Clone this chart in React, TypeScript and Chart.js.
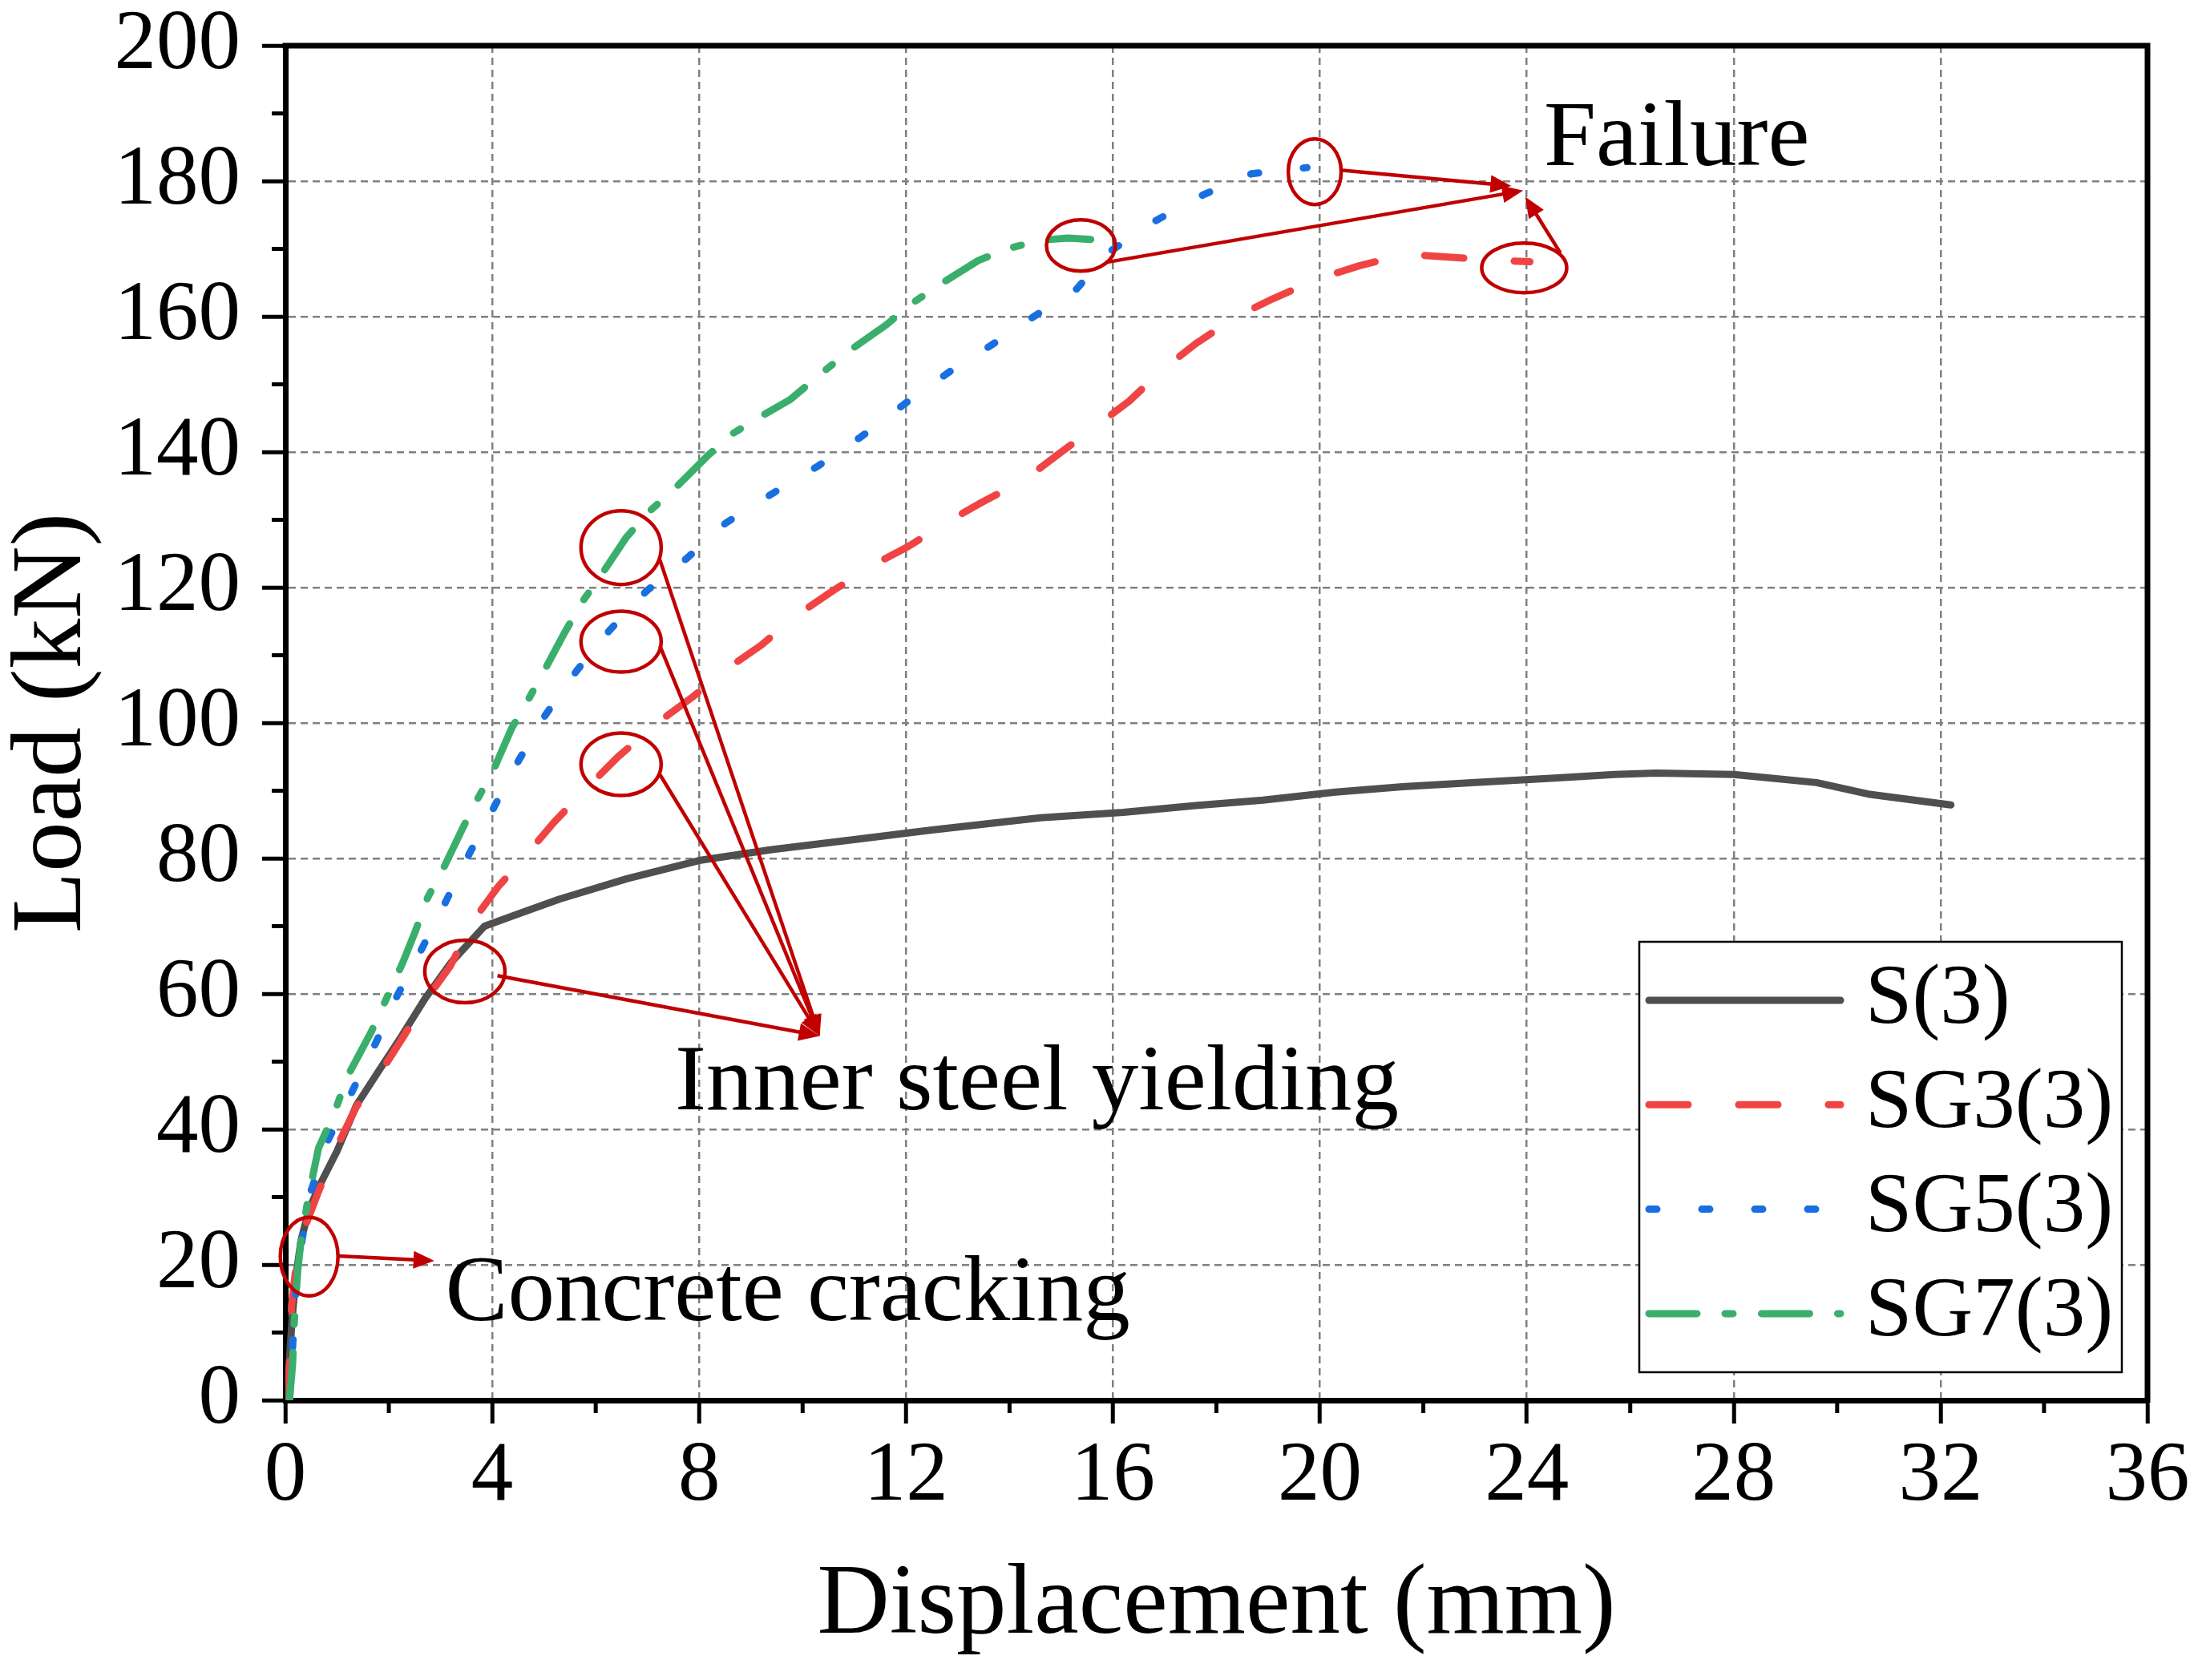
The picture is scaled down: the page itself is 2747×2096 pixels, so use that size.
import React, { useEffect, useRef } from "react";
import { Chart, registerables } from "chart.js";

Chart.register(...registerables);

// ---------------- data ----------------
const SERIES_LABELS = ["S(3)", "SG3(3)", "SG5(3)", "SG7(3)"];

const S_X = [0.03, 0.08, 0.13, 0.2, 0.3, 0.45, 0.64, 1.0, 1.37, 1.82, 2.25, 2.7, 3.2, 3.85, 4.5, 5.3, 6.6, 8.0, 9.4, 10.9, 12.5, 14.6, 16.2, 17.6, 18.9, 20.3, 21.6, 23.0, 24.4, 25.7, 26.5, 28.0, 29.6, 30.6, 32.2];
const S_Y = [0, 6, 12, 18, 23.5, 28, 31.4, 36.8, 43.5, 48.8, 53.8, 59.3, 64.6, 70, 71.8, 74, 77, 79.7, 81.3, 82.7, 84.2, 86, 86.8, 87.8, 88.6, 89.8, 90.6, 91.2, 91.8, 92.4, 92.6, 92.4, 91.2, 89.5, 87.9];

const SG3_X = [0.03, 0.09, 0.12, 0.19, 0.4, 0.64, 1.0, 1.37, 1.89, 2.3, 2.78, 3.18, 3.65, 4.1, 4.7, 5.2, 5.88, 6.43, 7.22, 7.85, 8.56, 9.2, 9.87, 10.54, 11.33, 12.03, 12.8, 13.47, 14.29, 14.93, 15.67, 16.31, 16.95, 17.6, 18.39, 19.08, 19.97, 20.76, 21.65, 22.48, 23.22, 24.06];
const SG3_Y = [0, 6.5, 14, 18.7, 26, 30.8, 37.5, 43.3, 49, 53.9, 59.8, 64, 71, 75.7, 80.9, 85.4, 90.8, 95, 100.2, 103.7, 108.1, 111.5, 115.8, 119.3, 123.2, 126, 129.7, 132.6, 135.9, 139.6, 143.8, 147.5, 152.1, 156, 160, 162.6, 165.6, 167.5, 169.2, 168.8, 168.4, 168.1];

const SG5_X = [0.08, 0.12, 0.17, 0.22, 0.33, 0.5, 0.82, 1.26, 1.75, 2.16, 2.64, 3.1, 3.55, 4.05, 4.52, 5.03, 5.64, 6.27, 6.97, 7.76, 8.51, 9.42, 10.29, 11.12, 11.97, 12.81, 13.65, 14.51, 15.3, 15.92, 16.81, 17.75, 18.68, 19.75];
const SG5_Y = [0, 5, 12, 18, 24, 31, 38.3, 45.1, 52.8, 59.7, 66.7, 73.6, 80.6, 87.8, 94.6, 101.2, 107.8, 113.7, 119.4, 124.3, 129.5, 133.9, 137.9, 142.2, 147.1, 151.7, 155.8, 160.2, 164.1, 169.5, 174.1, 178, 181.1, 182];

const SG7_X = [0.08, 0.14, 0.17, 0.24, 0.3, 0.44, 0.64, 0.95, 1.2, 1.66, 1.9, 2.28, 2.52, 2.75, 3.04, 3.43, 3.71, 4.02, 4.38, 4.7, 5.01, 5.41, 5.76, 6.12, 6.59, 7.03, 7.46, 8.17, 8.64, 9.2, 9.75, 10.44, 10.93, 11.62, 12.07, 12.56, 13.4, 13.99, 14.64, 15.13, 15.57];
const SG7_Y = [0, 5.4, 11.3, 19.2, 23.4, 29.8, 37.2, 42.5, 47.8, 54.4, 58.4, 64.8, 69.4, 74.2, 78.3, 84.5, 88.7, 93, 99.3, 103.5, 107.8, 113.5, 118.1, 122, 127.4, 131.2, 134.1, 139.5, 142.7, 145.3, 147.7, 152.1, 155.1, 158.8, 161.7, 164.3, 168.3, 170.1, 171.3, 171.6, 171.4];

const X_MIN = 0, X_MAX = 36, X_STEP = 4;
const Y_MIN = 0, Y_MAX = 200, Y_STEP = 20;
const X_MINOR = [2, 6, 10, 14, 18, 22, 26, 30, 34];
const Y_MINOR = [10, 30, 50, 70, 90, 110, 130, 150, 170, 190];

const X_TITLE = "Displacement (mm)";
const Y_TITLE = "Load (kN)";

// annotations (data coordinates, radii in px)
const ANNOT_TEXTS = ["Failure", "Inner steel yielding", "Concrete cracking"];
const ANNOT_TEXT_X = [24.33, 7.53, 3.09];
const ANNOT_TEXT_Y = [182.4, 43.0, 11.8];

const ELLIPSE_X = [0.46, 3.47, 6.49, 6.49, 6.49, 15.38, 19.9, 23.95];
const ELLIPSE_Y = [21.2, 63.3, 93.9, 112.0, 125.9, 170.5, 181.4, 167.2];
const ELLIPSE_RX = [36, 50, 50, 50, 50, 43, 33, 53];
const ELLIPSE_RY = [49, 39, 39, 38, 46, 32, 41, 31];

const ARROW_X0 = [1.02, 4.1, 7.24, 7.24, 7.24, 20.44, 15.86, 24.65];
const ARROW_Y0 = [21.3, 62.7, 92.4, 111.4, 124.1, 181.6, 168.0, 169.4];
const ARROW_X1 = [2.88, 10.33, 10.33, 10.33, 10.33, 23.7, 23.93, 23.97];
const ARROW_Y1 = [20.6, 53.8, 53.8, 53.8, 53.8, 179.3, 178.6, 177.7];

// ---------------- styles ----------------
const FONT = "'Liberation Serif', 'Times New Roman', Times, serif";
const COLORS = ["#4f4f4f", "#f04444", "#1a6fe0", "#3aaf6c"];
const DASHES: number[][] = [[], [49, 63], [10, 56], [60, 35, 10, 35.5]];
const ANNOT_COLOR = "#c00000";

const toPts = (xs: number[], ys: number[]) => xs.map((x, i) => ({ x, y: ys[i] }));

const framePlugin = {
  id: "frame",
  afterDraw(chart: any) {
    const { ctx, chartArea: a, scales } = chart;
    ctx.save();
    ctx.strokeStyle = "#000";
    ctx.lineWidth = 7;
    ctx.lineCap = "butt";
    ctx.setLineDash([]);
    ctx.beginPath();
    ctx.moveTo(a.left - 3.5, a.top);
    ctx.lineTo(a.right + 3.5, a.top);
    ctx.moveTo(a.right, a.top);
    ctx.lineTo(a.right, a.bottom + 3.5);
    ctx.stroke();
    // minor ticks
    ctx.lineWidth = 5;
    ctx.beginPath();
    Y_MINOR.forEach((v) => {
      const py = scales.y.getPixelForValue(v);
      ctx.moveTo(a.left, py);
      ctx.lineTo(a.left - 17, py);
    });
    X_MINOR.forEach((v) => {
      const px = scales.x.getPixelForValue(v);
      ctx.moveTo(px, a.bottom);
      ctx.lineTo(px, a.bottom + 16);
    });
    ctx.stroke();
    ctx.restore();
  },
};

const annotationPlugin = {
  id: "annotations",
  afterDatasetsDraw(chart: any) {
    const { ctx, scales } = chart;
    const xs = scales.x, ys = scales.y;
    ctx.save();
    ctx.strokeStyle = ANNOT_COLOR;
    ctx.fillStyle = ANNOT_COLOR;
    ctx.lineWidth = 4.5;
    ctx.setLineDash([]);
    ELLIPSE_X.forEach((ex, i) => {
      ctx.beginPath();
      ctx.ellipse(xs.getPixelForValue(ex), ys.getPixelForValue(ELLIPSE_Y[i]), ELLIPSE_RX[i], ELLIPSE_RY[i], 0, 0, Math.PI * 2);
      ctx.stroke();
    });
    const headLen = 26, headHalf = 11;
    ARROW_X0.forEach((ax, i) => {
      const x0 = xs.getPixelForValue(ax), y0 = ys.getPixelForValue(ARROW_Y0[i]);
      const x1 = xs.getPixelForValue(ARROW_X1[i]), y1 = ys.getPixelForValue(ARROW_Y1[i]);
      const dx = x1 - x0, dy = y1 - y0;
      const len = Math.hypot(dx, dy);
      const ux = dx / len, uy = dy / len;
      const bx = x1 - ux * headLen, by = y1 - uy * headLen;
      ctx.beginPath();
      ctx.moveTo(x0, y0);
      ctx.lineTo(bx + ux * 2, by + uy * 2);
      ctx.stroke();
      ctx.beginPath();
      ctx.moveTo(x1, y1);
      ctx.lineTo(bx - uy * headHalf, by + ux * headHalf);
      ctx.lineTo(bx + uy * headHalf, by - ux * headHalf);
      ctx.closePath();
      ctx.fill();
    });
    ctx.fillStyle = "#000";
    ctx.font = `117px ${FONT}`;
    ctx.textAlign = "left";
    ctx.textBaseline = "alphabetic";
    ANNOT_TEXTS.forEach((t, i) => {
      ctx.fillText(t, xs.getPixelForValue(ANNOT_TEXT_X[i]), ys.getPixelForValue(ANNOT_TEXT_Y[i]));
    });
    ctx.restore();
  },
};

const legendPlugin = {
  id: "boxLegend",
  afterDraw(chart: any) {
    const { ctx, chartArea: a } = chart;
    const w = 602, h = 537;
    const x0 = a.right - 32 - w;
    const y0 = a.bottom - 35 - h;
    ctx.save();
    ctx.fillStyle = "#fff";
    ctx.fillRect(x0, y0, w, h);
    ctx.strokeStyle = "#000";
    ctx.lineWidth = 2.5;
    ctx.setLineDash([]);
    ctx.strokeRect(x0, y0, w, h);
    chart.data.datasets.forEach((ds: any, i: number) => {
      const cy = y0 + 73 + i * 130.3;
      ctx.beginPath();
      ctx.strokeStyle = ds.borderColor;
      ctx.lineWidth = ds.borderWidth;
      ctx.lineCap = "round";
      ctx.setLineDash(ds.borderDash || []);
      ctx.lineDashOffset = 0;
      ctx.moveTo(x0 + 12, cy);
      ctx.lineTo(x0 + 251, cy);
      ctx.stroke();
      ctx.setLineDash([]);
      ctx.fillStyle = "#000";
      ctx.font = `105px ${FONT}`;
      ctx.textAlign = "left";
      ctx.textBaseline = "middle";
      ctx.fillText(ds.label, x0 + 282, cy);
    });
    ctx.restore();
  },
};

export default function App() {
  const ref = useRef<HTMLCanvasElement>(null);
  useEffect(() => {
    document.body.style.margin = "0";
    const canvas = ref.current;
    if (!canvas) return;
    const series = [toPts(S_X, S_Y), toPts(SG3_X, SG3_Y), toPts(SG5_X, SG5_Y), toPts(SG7_X, SG7_Y)];
    const datasets = series.map((data, i) => ({
      label: SERIES_LABELS[i],
      data,
      borderColor: COLORS[i],
      backgroundColor: COLORS[i],
      borderWidth: 9,
      borderDash: DASHES[i],
      borderCapStyle: "round" as const,
      borderJoinStyle: "round" as const,
      pointRadius: 0,
      fill: false,
      tension: 0,
      order: 4 - i,
    }));
    const xTickFont = { family: FONT, size: 105, lineHeight: 1 };
    const yTickFont = { family: FONT, size: 105, lineHeight: 0.5 };
    const titleFont = { family: FONT, size: 125, lineHeight: 1 };
    const chart = new Chart(canvas, {
      type: "line",
      data: { datasets },
      options: {
        responsive: false,
        animation: false,
        devicePixelRatio: 1,
        layout: { padding: { top: 57, right: 68, left: 0, bottom: 0 }, autoPadding: false },
        plugins: {
          legend: { display: false },
          tooltip: { enabled: false },
          title: { display: false },
        },
        elements: { point: { radius: 0 } },
        scales: {
          x: {
            type: "linear",
            min: X_MIN,
            max: X_MAX,
            ticks: { stepSize: X_STEP, padding: 15, color: "#000", font: xTickFont, autoSkip: false, maxRotation: 0 },
            grid: { color: "#808080", lineWidth: 2.5, tickLength: 29, tickColor: "#000", tickWidth: 5, tickBorderDash: [] },
            border: { display: true, color: "#000", width: 7, dash: [9, 6] },
            title: { display: true, text: X_TITLE, color: "#000", font: titleFont, padding: { top: 0, bottom: 29.5 } },
            afterFit: (s: any) => { s.height = 349; },
          },
          y: {
            type: "linear",
            min: Y_MIN,
            max: Y_MAX,
            ticks: { stepSize: Y_STEP, padding: 27, color: "#000", font: yTickFont, autoSkip: false },
            grid: { color: "#808080", lineWidth: 2.5, tickLength: 29, tickColor: "#000", tickWidth: 5, tickBorderDash: [] },
            border: { display: true, color: "#000", width: 7, dash: [9, 6] },
            title: { display: true, text: Y_TITLE, color: "#000", font: titleFont, padding: { top: 5, bottom: 0 } },
            afterFit: (s: any) => { s.width = 356; s.paddingTop = 0; s.paddingBottom = 0; },
          },
        },
      } as any,
      plugins: [annotationPlugin, framePlugin, legendPlugin],
    });
    return () => chart.destroy();
  }, []);
  return (
    <div style={{ width: 2747, height: 2096, background: "#fff" }}>
      <canvas ref={ref} width={2747} height={2096} style={{ display: "block" }} />
    </div>
  );
}
